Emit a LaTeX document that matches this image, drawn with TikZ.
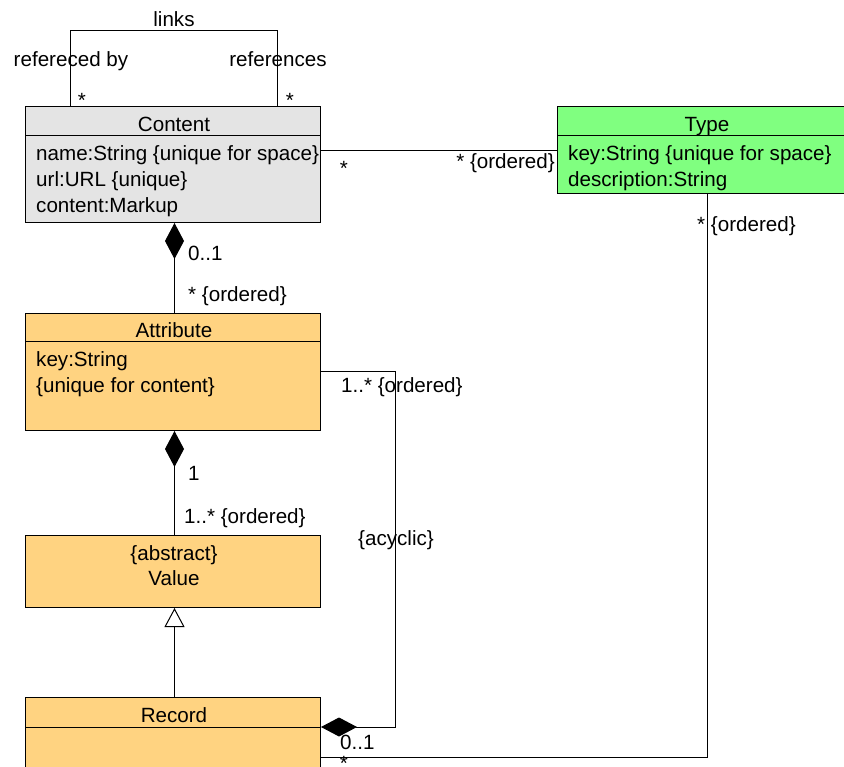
\documentclass[tikz,border=0pt]{standalone}
\usepackage{fontspec}
\setmainfont{Liberation Sans}
\usetikzlibrary{arrows.meta}
\definecolor{contentgray}{HTML}{E4E4E4}
\definecolor{typegreen}{HTML}{80FF80}
\definecolor{classorange}{HTML}{FFD381}

\begin{document}
\begin{tikzpicture}[x=1pt,y=-1pt,
  box/.style={draw=black, line width=1pt, rectangle, anchor=north west,
    inner sep=0pt, minimum width=295pt},
  lbl/.style={inner sep=0pt, font=\fontsize{20.6}{24}\selectfont,
    text height=15pt, text depth=4pt},
  conn/.style={line width=1pt},
  comp/.style={-{Diamond[length=36pt,width=19pt]}},
  gen/.style={-{Triangle[length=19pt,width=20pt,fill=white]}}
]
\useasboundingbox (0,0) rectangle (844,767);
\clip (0,0) rectangle (844,767);

% class boxes
\node[box, fill=contentgray, minimum height=116pt] (content) at (25,106) {};
\node[box, fill=typegreen, minimum width=300pt, minimum height=87pt] (type) at (557,106) {};
\node[box, fill=classorange, minimum height=117pt] (attribute) at (25,313) {};
\node[box, fill=classorange, minimum height=72pt] (value) at (25,535) {};
\node[box, fill=classorange, minimum height=90pt] (record) at (25,697) {};

% compartment separators
\draw[conn] ([yshift=-30pt]content.north west) -- ([yshift=-30pt]content.north east);
\draw[conn] ([yshift=-30pt]type.north west) -- ([yshift=-30pt]type.north east);
\draw[conn] ([yshift=-29pt]attribute.north west) -- ([yshift=-29pt]attribute.north east);
\draw[conn] ([yshift=-30pt]record.north west) -- ([yshift=-30pt]record.north east);

% class names and attributes
\node[lbl] (tContent) at (174,126) {Content};
\node[lbl, anchor=west] (aName) at (36,155) {name:String \{unique for space\}};
\node[lbl, anchor=west] (aUrl) at (36,181.5) {url:URL \{unique\}};
\node[lbl, anchor=west] (aBody) at (36,207.5) {content:Markup};

\node[lbl] (tType) at (707,126) {Type};
\node[lbl, anchor=west] (aKeyT) at (568,155) {key:String \{unique for space\}};
\node[lbl, anchor=west] (aDesc) at (568,181.5) {description:String};

\node[lbl] (tAttribute) at (174,332) {Attribute};
\node[lbl, anchor=west] (aKeyA) at (36,361.5) {key:String};
\node[lbl, anchor=west] (aUniq) at (36,386.5) {\{unique for content\}};

\node[lbl] (tAbstract) at (174,554.5) {\{abstract\}};
\node[lbl] (tValue) at (174,579.5) {Value};

\node[lbl] (tRecord) at (174,717) {Record};

% connector bend points
\coordinate (ctY) at (0,151);
\coordinate (loopX) at (395,372);
\coordinate (rdY) at (0,727);
\coordinate (trX) at (707,757);

% self association of Content
\draw[conn] ([xshift=45pt]content.north west) -- ++(0,-75) -| ([xshift=252pt]content.north west);
\node[lbl] (lLinks) at (174,21.5) {links};
\node[lbl] (lRefBy) at (71,61.5) {refereced by};
\node[lbl] (lRefs) at (278,61.5) {references};
\node[lbl] (lStarA) at (82,102.5) {*};
\node[lbl] (lStarB) at (290,102.5) {*};

% Content -- Type
\draw[conn] (content.east |- ctY) -- (type.west |- ctY);
\node[lbl] (lStarC) at (344,170.5) {*};
\node[lbl, anchor=east] (lOrdC) at (555,163.5) {* \{ordered\}};

% Content <>-- Attribute
\draw[conn, comp] ([xshift=1.5pt]attribute.north) -- ([xshift=1.5pt]content.south);
\node[lbl, anchor=west] (lZeroA) at (188,255.5) {0..1};
\node[lbl, anchor=west] (lOrdA) at (188,296.5) {* \{ordered\}};

% Attribute <>-- Value
\draw[conn, comp] ([xshift=1.5pt]value.north) -- ([xshift=1.5pt]attribute.south);
\node[lbl, anchor=west] (lOne) at (188,474.5) {1};
\node[lbl, anchor=west] (lOrdV) at (184,518) {1..* \{ordered\}};

% Record --|> Value
\draw[conn, gen] ([xshift=1.5pt]record.north) -- ([xshift=1.5pt]value.south);

% Record <>-- Attribute
\draw[conn, comp] (attribute.east |- loopX) -| (loopX |- rdY) -- (record.east |- rdY);
\node[lbl, anchor=west] (lOrdR) at (341,386.5) {1..* \{ordered\}};
\node[lbl] (lAcyclic) at (396,539.5) {\{acyclic\}};
\node[lbl, anchor=west] (lZeroR) at (340,743.5) {0..1};

% Type -- Record
\draw[conn] (type.south -| trX) |- (record.east |- trX);
\node[lbl, anchor=west] (lOrdT) at (697,226) {* \{ordered\}};
\node[lbl] (lStarR) at (344,764.5) {*};
\end{tikzpicture}
\end{document}
